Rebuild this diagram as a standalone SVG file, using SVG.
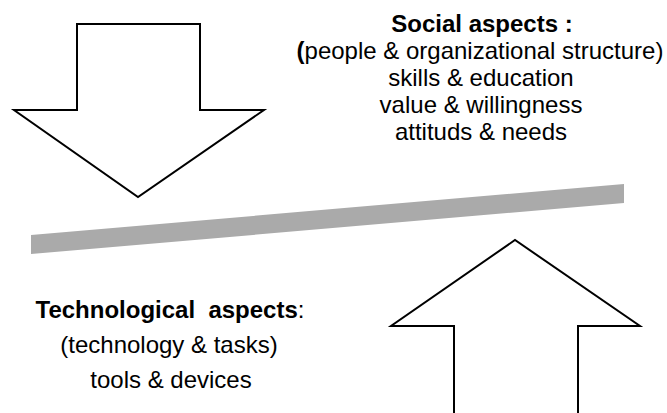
<svg xmlns="http://www.w3.org/2000/svg" width="667" height="413" viewBox="0 0 667 413">
<style>
.arrow{fill:#fff;stroke:#000;stroke-width:2;stroke-linejoin:miter}
.t{font-family:"Liberation Sans",Arial,sans-serif;font-size:24px;fill:#000;text-anchor:middle}
.b{font-weight:bold}
</style>
<rect width="667" height="413" fill="#fff"/>
<g id="down-arrow">
<polygon class="arrow" points="77,24 200,24 200,110 264,110 138,197 14,110 77,110"/>
</g>
<g id="up-arrow">
<polygon class="arrow" points="454,420 454,326 391,326 515,240 640,326 578,326 578,420"/>
</g>
<g id="balance-bar">
<polygon points="31,235 624,184 624,203 31,254" fill="#aaaaaa"/>
</g>
<g id="social-aspects">
<text class="t b" x="482" y="32">Social aspects :</text>
<text class="t" x="480" y="59"><tspan font-weight="bold">(</tspan>people &amp; organizational structure)</text>
<text class="t" x="481" y="86">skills &amp; education</text>
<text class="t" x="481" y="113">value &amp; willingness</text>
<text class="t" x="481" y="140">attituds &amp; needs</text>
</g>
<g id="technological-aspects">
<text class="t" x="170" y="318" xml:space="preserve"><tspan font-weight="bold">Technological  aspects</tspan>:</text>
<text class="t" x="169" y="353">(technology &amp; tasks)</text>
<text class="t" x="171" y="388">tools &amp; devices</text>
</g>
<g id="connectors"></g>
</svg>
